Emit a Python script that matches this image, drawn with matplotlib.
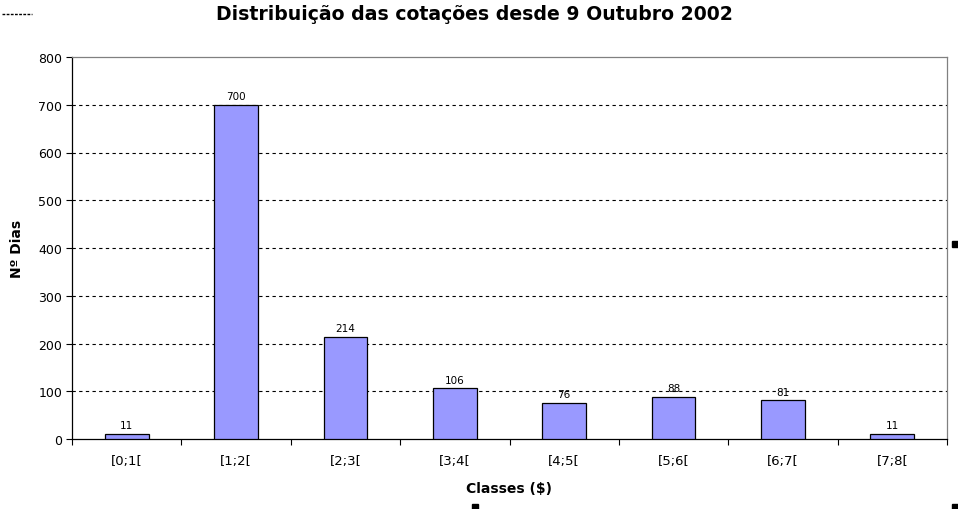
import matplotlib
matplotlib.use("Agg")
import matplotlib.pyplot as plt
from matplotlib.patches import Rectangle

categories = ["[0;1[", "[1;2[", "[2;3[", "[3;4[", "[4;5[", "[5;6[", "[6;7[", "[7;8["]
values = [11, 700, 214, 106, 76, 88, 81, 11]
yticks = [0, 100, 200, 300, 400, 500, 600, 700, 800]

fig = plt.figure(figsize=(9.58, 5.10), dpi=100)
ax = fig.add_axes([72/958, 1-440/510, (947-72)/958, (440-58)/510])

x = list(range(len(categories)))
bars = ax.bar(x, values, width=0.4, color="#9999FF", edgecolor="#000000", linewidth=0.9, zorder=3)
for xi, v in zip(x, values):
    ax.text(xi, v + 8, str(v), ha="center", va="bottom", fontsize=7.5, zorder=4)

ax.set_xlim(-0.5, len(categories) - 0.5)
ax.set_ylim(0, 800)
ax.set_yticks(yticks)
ax.set_yticklabels([str(t) for t in yticks], fontsize=9)
ax.set_xticks(x)
ax.set_xticklabels(categories, fontsize=9.5)
ax.tick_params(axis="x", length=0, pad=11)
ax.tick_params(axis="y", length=4, width=0.8, direction="out", pad=3)
# boundary ticks on x axis
ax.set_xticks([i - 0.5 for i in range(len(categories) + 1)], minor=True)
ax.tick_params(axis="x", which="minor", length=4, width=0.8, direction="out")

for t in yticks[1:-1]:
    ax.axhline(t, color="black", linestyle=(0, (3, 3)), linewidth=0.8, zorder=1)

ax.spines["left"].set_color("black")
ax.spines["bottom"].set_color("black")
ax.spines["top"].set_color("#808080")
ax.spines["right"].set_color("#808080")
for s in ax.spines.values():
    s.set_linewidth(0.9)

ax.set_xlabel("Classes ($)", fontsize=10, fontweight="bold", labelpad=10)
ax.set_ylabel("Nº Dias", fontsize=10, fontweight="bold", labelpad=10)
fig.text(474/958, 1-14/510, "Distribuição das cotações desde 9 Outubro 2002",
         ha="center", va="center", fontsize=13.6, fontweight="bold")

# selection handles
for (hx, hy) in [(955, 245), (475, 508), (955, 508)]:
    fig.patches.append(Rectangle(((hx-3)/958, 1-(hy+3)/510), 6/958, 6/510,
                                 transform=fig.transFigure, color="black"))
fig.lines.append(plt.Line2D([2/958, 32/958], [1-15/510, 1-15/510], transform=fig.transFigure,
                            color="black", linewidth=1.0, linestyle=(0, (2, 1))))

fig.savefig("out.png", dpi=100)
